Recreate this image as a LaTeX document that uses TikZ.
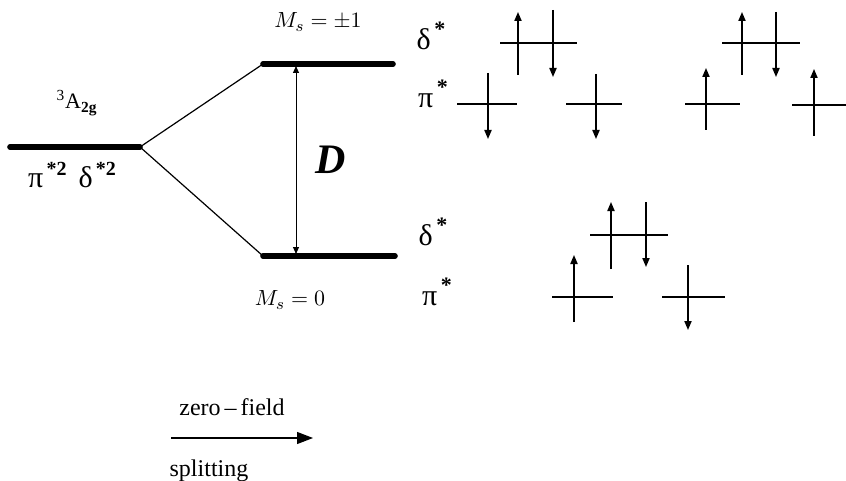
\documentclass[tikz,border=0pt]{standalone}
\usepackage{fontspec}
\setmainfont{Liberation Serif}
\usetikzlibrary{arrows.meta}
\tikzset{
  lvl/.style={line width=2.8pt, line cap=round},
  conn/.style={line width=0.6pt},
  orb/.style={line width=0.7pt},
  spin/.style={-{Triangle[length=4.5pt, width=3.6pt]}, line width=0.7pt},
  gr/.style={font=\fontsize{15}{15}\selectfont, inner sep=0pt},
  ms/.style={font=\fontsize{11}{11}\selectfont, inner sep=0pt},
}
\newcommand{\st}{\raisebox{0.42em}{\fontsize{11}{11}\selectfont\,\textbf{*}}}
\newcommand{\sttwo}{\raisebox{0.42em}{\fontsize{10}{10}\selectfont\,\textbf{*2}}}

\begin{document}
\begin{tikzpicture}[x=0.5pt, y=-0.5pt]
\useasboundingbox (0,0) rectangle (846,481);

% levels
\coordinate (gl) at (10,147);
\coordinate (gr) at (140,147);
\coordinate (ul) at (263,64);
\coordinate (ur) at (393,64);
\coordinate (ll) at (263,256);
\coordinate (lr) at (395,256);
\draw[lvl] (gl) -- (gr);
\draw[lvl] (ul) -- (ur);
\draw[lvl] (ll) -- (lr);
\draw[conn] (gr) -- (ul);
\draw[conn] (gr) -- (ll);

% splitting D
\coordinate (dt) at (296,66);
\coordinate (db) at (296,254);
\draw[{Triangle[length=3.5pt, width=3pt]}-{Triangle[length=3.5pt, width=3pt]}, line width=0.5pt] (dt) -- (db);
\node[inner sep=0pt, font=\fontsize{21}{21}\selectfont\bfseries\itshape] (dlab) at (331,160) {D};

% state labels
\node[inner sep=0pt, font=\fontsize{11}{11}\selectfont] (term) at (77,103) {\textsuperscript{3}A\textsubscript{\textbf{2g}}};
\node[gr] (conf) at (72,175) {π\sttwo\hspace{0.4em}δ\sttwo};
\node[ms] (mone) at (318,22) {$M_s = \pm 1$};
\node[ms] (mzero) at (290,300) {$M_s = 0$};

% orbital labels
\node[gr] (du) at (431,36) {δ\st};
\node[gr] (pu) at (433,94) {π\st};
\node[gr] (dl) at (433,232) {δ\st};
\node[gr] (pl) at (437,292) {π\st};

% upper configurations
\draw[orb] (500,43) -- (577,43);
\draw[spin] (518,75) -- (518,12);
\draw[spin] (553,10) -- (553,77);
\draw[orb] (457,104) -- (517,104);
\draw[spin] (488,73) -- (488,139);
\draw[orb] (566,104) -- (622,104);
\draw[spin] (596,74) -- (596,139);

\draw[orb] (722,43) -- (800,43);
\draw[spin] (742,75) -- (742,12);
\draw[spin] (776,12) -- (776,77);
\draw[orb] (685,104) -- (740,104);
\draw[spin] (706,130) -- (706,68);
\draw[orb] (792,105) -- (846,105);
\draw[spin] (814,136) -- (814,69);

% lower configuration
\draw[orb] (590,235) -- (668,235);
\draw[spin] (611,269) -- (611,202);
\draw[spin] (646,202) -- (646,267);
\draw[orb] (552,297) -- (613,297);
\draw[spin] (574,322) -- (574,255);
\draw[orb] (662,297) -- (725,297);
\draw[spin] (688,265) -- (688,330);

% zero-field splitting arrow
\coordinate (za) at (171,438);
\coordinate (zb) at (313,438);
\draw[-{Triangle[length=8pt, width=6pt]}, line width=0.6pt] (za) -- (zb);
\node[inner sep=0pt, font=\fontsize{12}{12}\selectfont] (zf) at (232,407) {zero\,–\,field};
\node[inner sep=0pt, font=\fontsize{12}{12}\selectfont] (sp) at (209,471) {splitting};
\end{tikzpicture}
\end{document}
